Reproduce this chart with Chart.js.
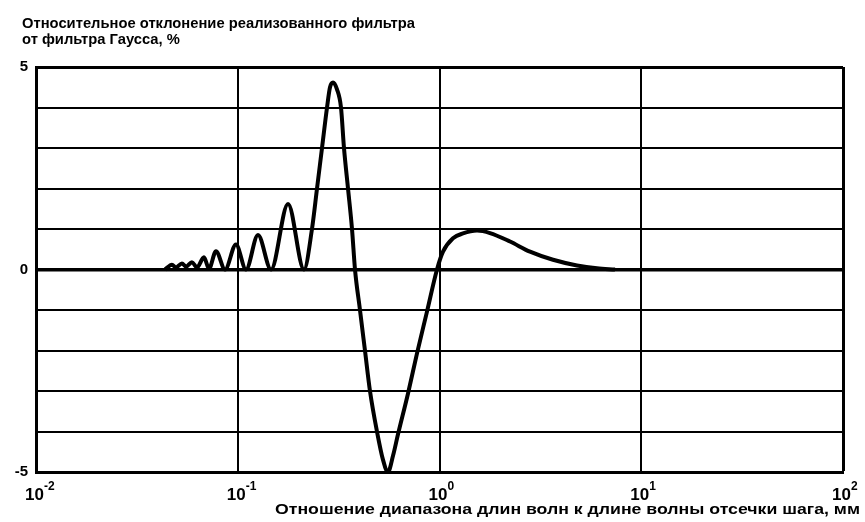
<!DOCTYPE html>
<html>
<head>
<meta charset="utf-8">
<script src="https://cdn.jsdelivr.net/npm/chart.js@4.4.0/dist/chart.umd.min.js"></script>
<style>
  html, body { margin: 0; padding: 0; background: #fff; }
  #wrap { width: 865px; height: 522px; }
</style>
</head>
<body>
<div id="wrap"><canvas id="devChart" width="865" height="522"></canvas></div>
<script>
// wavelength ratio (x, log axis) and deviation from Gaussian filter, % (y)
const lambdaRatio = [
  0.0436, 0.0472, 0.0494, 0.0529, 0.0554, 0.0593, 0.0628, 0.0680, 0.0720, 0.0780,
  0.0865, 0.0980, 0.1099, 0.1260, 0.1462, 0.1775, 0.2130, 0.2333, 0.2471, 0.2616,
  0.2770, 0.2866, 0.2966, 0.3104, 0.3249, 0.3362, 0.3520, 0.3684, 0.3812, 0.4035,
  0.4272, 0.4523, 0.4899, 0.5248, 0.5555, 0.5882, 0.6227, 0.6981, 0.7736, 0.8670,
  0.9719, 1.0407, 1.1665, 1.3076, 1.5344, 1.7792, 2.2360, 2.8093, 3.6525, 4.8027,
  6.0350, 7.4131
];
const deviation = [
  0.00, 0.12, 0.05, 0.15, 0.07, 0.18, 0.05, 0.30, 0.02, 0.45,
  0.00, 0.62, 0.00, 0.85, 0.00, 1.62, 0.00, 1.00, 2.00, 3.00,
  4.00, 4.50, 4.62, 4.45, 4.00, 3.00, 2.00, 1.00, 0.00, -1.00,
  -2.00, -3.00, -4.00, -4.70, -5.00, -4.60, -4.07, -3.06, -2.07, -1.04,
  0.00, 0.44, 0.77, 0.89, 0.96, 0.90, 0.69, 0.44, 0.24, 0.10,
  0.03, 0.00
];
const xTickExponents = [-2, -1, 0, 1, 2];
const yTickLabels = [-5, 0, 5];

const yTitle1 = "Относительное отклонение реализованного фильтра";
const yTitle2 = "от фильтра Гаусса, %";
const xTitle = "Отношение диапазона длин волн к длине волны отсечки шага, мм";

const FONT = '"Liberation Sans", Arial, sans-serif';

// draw text squeezed to a given width (the original lettering is narrow)
function fitText(ctx, text, x, y, width, size, sx) {
  ctx.font = "bold " + size + "px " + FONT;
  const w = ctx.measureText(text).width;
  const k = sx || width / w;
  ctx.save();
  ctx.translate(x, y);
  ctx.scale(k, 1);
  ctx.textAlign = "left";
  ctx.textBaseline = "alphabetic";
  ctx.fillText(text, 0, 0);
  ctx.restore();
  return k;
}

const labelsPlugin = {
  id: "labels",
  afterDraw(chart) {
    const ctx = chart.ctx;
    ctx.save();
    ctx.fillStyle = "#000";
    const k = fitText(ctx, yTitle1, 22, 28, 393, 15);
    fitText(ctx, yTitle2, 22, 44, 0, 15, k);
    fitText(ctx, xTitle, 275, 514, 585, 15);

    // decade labels 10^n
    const xs = chart.scales.x;
    xTickExponents.forEach(e => {
      const px = xs.getPixelForValue(Math.pow(10, e));
      ctx.font = "bold 17px " + FONT;
      ctx.textAlign = "right";
      ctx.fillText("10", px + 8, 500);
      ctx.font = "bold 12px " + FONT;
      ctx.textAlign = "left";
      ctx.fillText(String(e), px + 8, 490);
    });
    ctx.restore();
  }
};

const points = lambdaRatio.map((v, i) => ({ x: v, y: deviation[i] }));

new Chart(document.getElementById("devChart"), {
  type: "line",
  data: {
    datasets: [{
      data: points,
      borderColor: "#000",
      borderWidth: 4,
      pointRadius: 0,
      cubicInterpolationMode: "monotone",
      fill: false,
      clip: 6
    }]
  },
  options: {
    responsive: false,
    animation: false,
    layout: { padding: { top: 67, right: 22, bottom: 50, left: 0 } },
    plugins: { legend: { display: false }, tooltip: { enabled: false } },
    scales: {
      x: {
        type: "logarithmic",
        min: 0.01,
        max: 100,
        afterBuildTicks: s => { s.ticks = xTickExponents.map(e => ({ value: Math.pow(10, e) })); },
        afterFit: s => { s.height = 0; },
        ticks: { display: false },
        grid: {
          color: "#000",
          drawTicks: false,
          lineWidth: c => (c.tick && c.tick.value === 100 ? 3 : 2)
        },
        border: { display: true, color: "#000", width: 3 }
      },
      y: {
        min: -5,
        max: 5,
        afterBuildTicks: s => {
          const t = [];
          for (let v = -5; v <= 5; v++) t.push({ value: v });
          s.ticks = t;
        },
        afterFit: s => { s.width = 36; },
        ticks: {
          autoSkip: false,
          padding: 8,
          color: "#000",
          font: { family: FONT, size: 15, weight: "bold" },
          callback: v => (yTickLabels.includes(v) ? String(v) : "")
        },
        grid: {
          color: "#000",
          drawTicks: false,
          lineWidth: c => {
            const v = c.tick ? c.tick.value : null;
            if (v === 0) return 3.5;
            if (v === 5) return 3;
            return 2;
          }
        },
        border: { display: true, color: "#000", width: 3 }
      }
    }
  },
  plugins: [labelsPlugin]
});
</script>
</body>
</html>
